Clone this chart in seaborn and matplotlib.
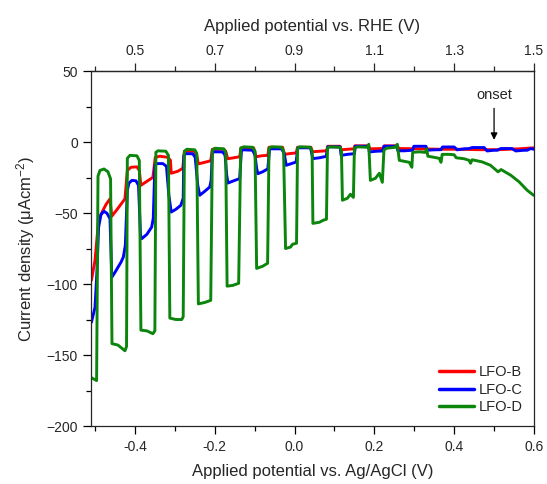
import numpy as np
import pandas as pd
import matplotlib
matplotlib.use("Agg")
import matplotlib.pyplot as plt
import seaborn as sns
from matplotlib.ticker import MultipleLocator, FixedLocator

# chopped-light LSV (V vs Ag/AgCl, uA cm^-2)
lfo_b_v = [-0.509, -0.5, -0.491, -0.4825, -0.4725, -0.4625, -0.458, -0.4425, -0.425, -0.419,
           -0.41, -0.395, -0.389, -0.385, -0.37, -0.355, -0.349, -0.3375, -0.3175, -0.311,
           -0.309, -0.2925, -0.28, -0.276, -0.25, -0.245, -0.241, -0.225, -0.21, -0.206,
           -0.1775, -0.1725, -0.1675, -0.1525, -0.1375, -0.134, -0.1025, -0.0963, -0.0825, -0.067,
           -0.064, -0.03, -0.025, -0.01, 0.004, 0.0075, 0.041, 0.045, 0.0625, 0.08,
           0.0833, 0.114, 0.1175, 0.1325, 0.149, 0.151, 0.185, 0.19, 0.221, 0.225,
           0.256, 0.2625, 0.3125, 0.3625, 0.4125, 0.4625, 0.5125, 0.5625, 0.599]
lfo_b_j = [-97.4, -83.3, -55, -49.5, -44, -40, -52.3, -46.7, -40, -20,
           -17.8, -17.5, -20, -30.5, -27.7, -24.9, -10.8, -10, -10.8, -12.9,
           -22, -20.6, -18.5, -6.5, -6.5, -9.4, -15.4, -14.3, -13.2, -5.1,
           -5.1, -6.5, -11.8, -11.1, -10.4, -4.1, -4.1, -10.4, -9.7, -9.4,
           -3.7, -3.7, -8.7, -8.1, -7.7, -3.7, -3.7, -6.9, -6.5, -6.2,
           -3, -3, -5.5, -5.1, -4.8, -2.7, -2.7, -4.8, -4.6, -2.7,
           -2.7, -4.6, -4.8, -5.1, -5.1, -5.4, -5.4, -4.8, -4.1]

lfo_c_v = [-0.509, -0.5, -0.495, -0.491, -0.485, -0.4775, -0.47, -0.4625, -0.458, -0.45,
           -0.442, -0.435, -0.429, -0.424, -0.419, -0.415, -0.4075, -0.3975, -0.391, -0.386,
           -0.3825, -0.37, -0.358, -0.354, -0.35, -0.345, -0.33, -0.321, -0.315, -0.309,
           -0.2975, -0.285, -0.279, -0.2775, -0.2725, -0.255, -0.249, -0.2425, -0.2375, -0.225,
           -0.2125, -0.209, -0.206, -0.2, -0.18, -0.174, -0.17, -0.1668, -0.1525, -0.1375,
           -0.133, -0.1275, -0.105, -0.099, -0.095, -0.092, -0.08, -0.067, -0.0625, -0.0325,
           -0.026, -0.0208, -0.01, 0.004, 0.008, 0.04, 0.0458, 0.0625, 0.0793, 0.0833,
           0.114, 0.1168, 0.1325, 0.15, 0.1525, 0.185, 0.1875, 0.205, 0.2208, 0.224,
           0.256, 0.259, 0.275, 0.2958, 0.299, 0.3293, 0.3325, 0.35, 0.3668, 0.3708,
           0.4, 0.4075, 0.425, 0.4375, 0.445, 0.475, 0.4825, 0.5, 0.5083, 0.5168,
           0.545, 0.5543, 0.575, 0.583, 0.5918, 0.599]
lfo_c_j = [-127, -116.4, -90.4, -60, -51, -48.8, -50.2, -54, -95.3, -91.8,
           -88, -84.7, -81, -72.7, -34, -29, -27, -27.3, -30.5, -65.7,
           -68, -65, -59.9, -53.7, -16.4, -15.2, -15.2, -17.1, -37.5, -49.3,
           -47.4, -44.6, -39.6, -9.4, -8.2, -8.3, -10.8, -30.5, -37.5, -34.7,
           -31.7, -27, -7.3, -6.9, -7, -9.4, -23.4, -28.9, -27.3, -25.8,
           -5.8, -5.5, -5.8, -9.4, -18.5, -22.3, -21, -18.9, -4.8, -4.8,
           -8, -16.4, -15.4, -14.1, -4.1, -4.1, -11.7, -11.1, -10.1, -3.4,
           -3.4, -9.4, -8.7, -8.2, -3, -3, -7, -6.5, -6.3, -3,
           -3, -6.2, -6.2, -5.8, -3, -3, -5.8, -5.5, -5.4, -3.5,
           -3.5, -5.5, -4.8, -4.6, -3.9, -3.9, -6.3, -5.8, -5.8, -4.6,
           -4.6, -6.3, -5.8, -5.8, -4.6, -5.1]

lfo_d_v = [-0.509, -0.496, -0.4925, -0.4875, -0.4775, -0.4675, -0.461, -0.4575, -0.4425, -0.425,
           -0.421, -0.419, -0.4125, -0.395, -0.389, -0.385, -0.37, -0.355, -0.35, -0.3475,
           -0.3425, -0.3225, -0.316, -0.3125, -0.2975, -0.2825, -0.279, -0.276, -0.27, -0.25,
           -0.245, -0.241, -0.225, -0.21, -0.206, -0.2, -0.1775, -0.1725, -0.169, -0.155,
           -0.14, -0.135, -0.1275, -0.105, -0.099, -0.095, -0.08, -0.0675, -0.064, -0.0575,
           -0.0325, -0.0275, -0.0225, -0.01, -0.005, 0.005, 0.0075, 0.0125, 0.039, 0.044,
           0.046, 0.0625, 0.0725, 0.08, 0.0825, 0.0875, 0.114, 0.1175, 0.12, 0.1325,
           0.14, 0.1475, 0.15, 0.1575, 0.1825, 0.186, 0.19, 0.2025, 0.2125, 0.22,
           0.224, 0.23, 0.2525, 0.2575, 0.2625, 0.275, 0.2875, 0.294, 0.296, 0.3125,
           0.3275, 0.331, 0.334, 0.35, 0.3625, 0.367, 0.37, 0.3875, 0.4, 0.405,
           0.425, 0.4375, 0.441, 0.445, 0.47, 0.491, 0.51, 0.5175, 0.5418, 0.5625,
           0.583, 0.599]
lfo_d_j = [-166, -168, -24, -20, -19, -21, -26, -142, -143, -147,
           -144, -11.5, -9.4, -9.7, -13, -132.5, -133, -135, -133, -7.3,
           -6.2, -6.5, -9.4, -124, -125, -125, -123, -6.5, -5.1, -5.5,
           -8, -114, -113, -111.5, -5.8, -4.4, -4.8, -7.2, -101.5, -101,
           -99.5, -4.4, -3.4, -3.7, -6.5, -89, -87.5, -85.4, -4.4, -3.4,
           -3.7, -6.5, -75, -74, -72, -71.3, -4.4, -3.4, -3.7, -6.5,
           -57.3, -56.5, -55, -54.4, -4.4, -3.4, -3.7, -6.5, -41, -39.6,
           -36.8, -39, -4.4, -3.4, -3.7, -1.6, -27, -25.6, -22, -28.4,
           -5.8, -4.4, -3.7, -1.6, -12.9, -13.6, -14.3, -17.8, -7.3, -6.9,
           -7.3, -4.8, -10, -10.8, -11.5, -14.3, -8.7, -8.7, -9, -11.1,
           -11.8, -12.9, -15, -12.5, -14, -16.4, -21, -19.4, -23.4, -28,
           -34, -37.5]

samples = ["LFO-B", "LFO-C", "LFO-D"]
colors = ["#ff0000", "#0000ff", "#0b850b"]
rhe_ticks = [0.5, 0.7, 0.9, 1.1, 1.3, 1.5]
rhe_minor = [0.4, 0.6, 0.8, 1.0, 1.2, 1.4]

frames = []
for name, v, j in zip(samples, [lfo_b_v, lfo_c_v, lfo_d_v], [lfo_b_j, lfo_c_j, lfo_d_j]):
    frames.append(pd.DataFrame({"E": v, "j": j, "sample": name}))
df = pd.concat(frames, ignore_index=True)

sns.set_style("ticks")
plt.rcParams["font.family"] = ["Liberation Sans", "DejaVu Sans"]
plt.rcParams["mathtext.fontset"] = "custom"
plt.rcParams["mathtext.rm"] = "Liberation Sans"
plt.rcParams["mathtext.it"] = "Liberation Sans:italic"
plt.rcParams["axes.linewidth"] = 0.9

fig, ax = plt.subplots(figsize=(5.47, 4.84), dpi=100)
fig.subplots_adjust(left=0.1664, right=0.9762, bottom=0.1198, top=0.8533)

sns.lineplot(data=df, x="E", y="j", hue="sample", palette=colors, estimator=None,
             sort=False, units="sample", linewidth=2.1, ax=ax)

ax.set_xlim(-0.51, 0.6)
ax.set_ylim(-200, 50)
ax.xaxis.set_major_locator(MultipleLocator(0.2))
ax.xaxis.set_minor_locator(MultipleLocator(0.1))
ax.yaxis.set_major_locator(MultipleLocator(50))
ax.yaxis.set_minor_locator(MultipleLocator(25))
ax.tick_params(which="major", direction="out", length=6, width=0.9, labelsize=10, color="black")
ax.tick_params(which="minor", direction="out", length=3.5, width=0.9, color="black")
ax.tick_params(axis="x", pad=4)
ax.xaxis.set_major_formatter(plt.FuncFormatter(lambda x, p: f"{x:.1f}"))

ax.set_xlabel("Applied potential vs. Ag/AgCl (V)", fontsize=12, labelpad=7)
ax.set_ylabel("Current density (μAcm$^{-2}$)", fontsize=12, labelpad=7)

top = ax.secondary_xaxis("top", functions=(lambda x: x + 0.9, lambda x: x - 0.9))
top.xaxis.set_major_locator(FixedLocator(rhe_ticks))
top.xaxis.set_minor_locator(FixedLocator(rhe_minor))
top.xaxis.set_major_formatter(plt.FuncFormatter(lambda x, p: f"{x:.1f}"))
top.tick_params(which="major", direction="out", length=6, width=0.9, labelsize=10)
top.tick_params(which="minor", direction="out", length=3.5, width=0.9)
top.set_xlabel("Applied potential vs. RHE (V)", fontsize=12, labelpad=9)

ax.annotate("onset", xy=(0.5, 1.5), xytext=(0.5, 28), ha="center", va="bottom",
            fontsize=10.5, arrowprops=dict(arrowstyle="-|>", color="black", lw=0.9,
                                           mutation_scale=10, shrinkA=2, shrinkB=0))

leg = ax.legend(loc="lower right", frameon=False, fontsize=10.5, handlelength=2.4,
                handletextpad=0.3, labelspacing=0.25, borderaxespad=0.4)
for line in leg.get_lines():
    line.set_linewidth(2.5)

fig.savefig("out.png", dpi=100)
